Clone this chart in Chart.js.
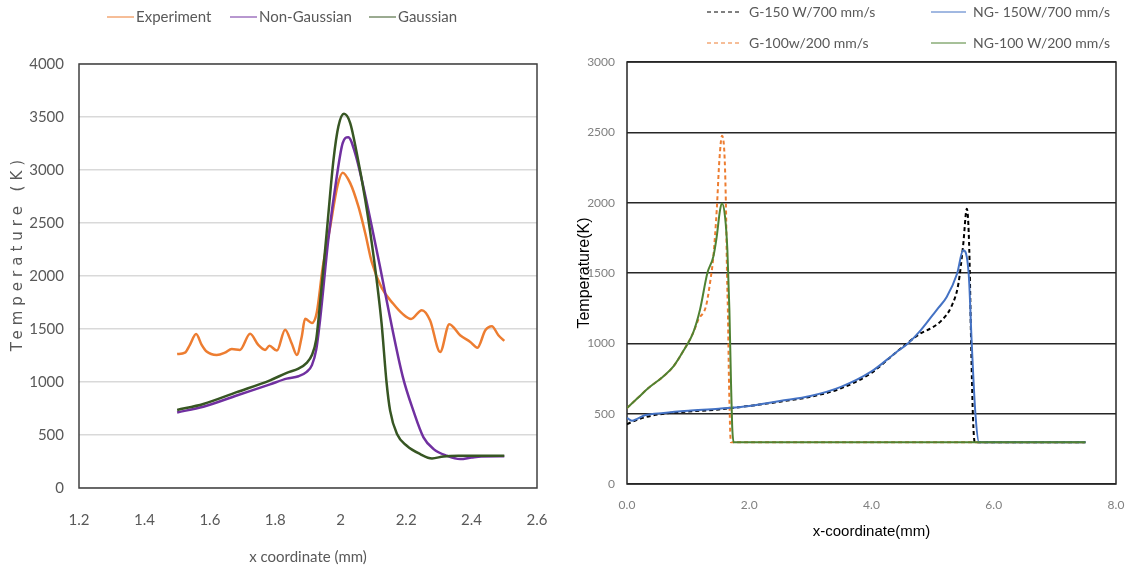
<!DOCTYPE html>
<html>
<head>
<meta charset="utf-8">
<script src="https://cdn.jsdelivr.net/npm/chart.js@4.4.1/dist/chart.umd.min.js"></script>
<style>
  html, body { margin: 0; padding: 0; background: #fff; }
  #wrap { position: relative; width: 1128px; height: 571px; overflow: hidden; }
  canvas { position: absolute; top: 0; }
  #peakChart { left: 0; }
  #speedChart { left: 560px; }
</style>
</head>
<body>
<div id="wrap">
  <canvas id="peakChart" width="560" height="571"></canvas>
  <canvas id="speedChart" width="568" height="571"></canvas>
</div>
<script>
// ---- temperature profile across the track (mm / K) ----
var expX = [1.5, 1.524, 1.539, 1.558, 1.575, 1.59, 1.621, 1.646, 1.667, 1.692, 1.723, 1.748, 1.769, 1.782, 1.805, 1.83, 1.85, 1.866, 1.881, 1.891, 1.912, 1.927, 1.945, 1.968, 1.99, 2.006, 2.029, 2.054, 2.075, 2.095, 2.125, 2.16, 2.19, 2.215, 2.248, 2.273, 2.304, 2.332, 2.365, 2.396, 2.418, 2.442, 2.462, 2.482, 2.5];
var expT = [1264, 1277, 1350, 1452, 1350, 1287, 1255, 1277, 1312, 1303, 1455, 1350, 1303, 1341, 1296, 1494, 1366, 1255, 1430, 1596, 1557, 1659, 2080, 2467, 2850, 2975, 2876, 2656, 2404, 2130, 1890, 1740, 1640, 1595, 1678, 1583, 1283, 1545, 1441, 1378, 1324, 1488, 1526, 1441, 1387];

var nonGaussX = [1.5, 1.58, 1.682, 1.784, 1.835, 1.871, 1.896, 1.912, 1.925, 1.937, 1.962, 1.988, 2.006, 2.023, 2.044, 2.069, 2.095, 2.12, 2.148, 2.19, 2.222, 2.253, 2.284, 2.325, 2.365, 2.4, 2.43, 2.5];
var nonGaussT = [713, 767, 873, 978, 1032, 1054, 1096, 1159, 1303, 1589, 2341, 2939, 3254, 3310, 3160, 2845, 2467, 2089, 1650, 1046, 730, 478, 367, 304, 273, 288, 298, 300];

var gaussX = [1.5, 1.58, 1.682, 1.784, 1.835, 1.871, 1.896, 1.912, 1.925, 1.932, 1.957, 1.978, 1.993, 2.01, 2.029, 2.049, 2.075, 2.095, 2.11, 2.125, 2.14, 2.151, 2.172, 2.202, 2.243, 2.279, 2.314, 2.36, 2.5];
var gaussT = [736, 793, 904, 1016, 1086, 1127, 1181, 1255, 1398, 1589, 2404, 3097, 3412, 3530, 3443, 3160, 2719, 2310, 1960, 1550, 1000, 730, 509, 399, 320, 279, 298, 304, 304];

var peakXTicks = [1.2, 1.4, 1.6, 1.8, 2.0, 2.2, 2.4, 2.6];
var peakYTicks = [0, 500, 1000, 1500, 2000, 2500, 3000, 3500, 4000];

// ---- power / scan speed cases along x (mm / K) ----
var g150X = [0, 0.1, 0.3, 0.6, 1.0, 1.5, 2.0, 2.5, 3.0, 3.5, 4.0, 4.4, 4.8, 4.96, 5.14, 5.31, 5.42, 5.5, 5.56, 5.6, 5.63, 5.66, 5.69, 7.5];
var g150T = [425, 445, 475, 500, 515, 530, 555, 585, 620, 680, 790, 935, 1070, 1104, 1160, 1265, 1420, 1700, 1957, 1661, 997, 475, 296, 296];

var ng150X = [0, 0.08, 0.3, 0.6, 1.0, 1.5, 2.0, 2.5, 3.0, 3.5, 4.0, 4.4, 4.6, 4.8, 5.0, 5.1, 5.23, 5.4, 5.5, 5.59, 5.64, 5.7, 5.76, 7.5];
var ng150T = [470, 450, 490, 505, 520, 535, 555, 590, 625, 690, 800, 935, 1000, 1090, 1200, 1255, 1330, 1495, 1661, 1495, 997, 499, 296, 296];

var g100X = [0, 0.175, 0.35, 0.584, 0.76, 0.934, 1.08, 1.17, 1.293, 1.358, 1.413, 1.468, 1.511, 1.555, 1.599, 1.62, 1.637, 1.65, 1.67, 1.7, 7.5];
var g100T = [540, 611, 682, 761, 836, 955, 1073, 1170, 1265, 1429, 1618, 1947, 2300, 2476, 2300, 1947, 1476, 1241, 700, 296, 296];

var ng100X = [0, 0.175, 0.35, 0.584, 0.76, 0.934, 1.08, 1.195, 1.315, 1.413, 1.468, 1.522, 1.555, 1.604, 1.642, 1.675, 1.7, 1.72, 1.745, 7.5];
var ng100T = [540, 611, 682, 761, 836, 955, 1073, 1241, 1500, 1618, 1759, 1947, 1994, 1900, 1665, 1241, 750, 420, 296, 296];

var speedXTicks = [0, 2, 4, 6, 8];
var speedYTicks = [0, 500, 1000, 1500, 2000, 2500, 3000];

function pts(xs, ys) {
    return xs.map(function (x, i) { return { x: x, y: ys[i] }; });
}

function fixedTicks(list) {
    return function (axis) {
        axis.ticks = list.map(function (v) { return { value: v }; });
    };
}

// box round the plot area
function frame(color, width) {
    return {
        id: 'frame',
        beforeDatasetsDraw: function (chart) {
            var a = chart.chartArea, ctx = chart.ctx;
            ctx.save();
            ctx.strokeStyle = color;
            ctx.lineWidth = width;
            ctx.strokeRect(a.left, a.top, a.right - a.left, a.bottom - a.top);
            ctx.restore();
        }
    };
}

// legend with line samples at set spots
function lineLegend(items, font, color, sample, gap) {
    return {
        id: 'lineLegend',
        afterDraw: function (chart) {
            var ctx = chart.ctx;
            ctx.save();
            ctx.font = font;
            ctx.textBaseline = 'middle';
            items.forEach(function (it) {
                var ds = chart.data.datasets[it.index];
                ctx.beginPath();
                ctx.setLineDash(ds.borderDash || []);
                ctx.strokeStyle = ds.borderColor;
                ctx.lineWidth = ds.borderWidth;
                ctx.moveTo(it.x, it.y);
                ctx.lineTo(it.x + sample, it.y);
                ctx.stroke();
                ctx.setLineDash([]);
                ctx.fillStyle = color;
                ctx.fillText(ds.label, it.x + sample + gap, it.y);
            });
            ctx.restore();
        }
    };
}

// rotated, letter-spaced y title
function spacedYTitle(text, font, color, x, y, spacing) {
    return {
        id: 'spacedYTitle',
        afterDraw: function (chart) {
            var ctx = chart.ctx;
            ctx.save();
            ctx.translate(x, y);
            ctx.rotate(-Math.PI / 2);
            ctx.font = font;
            ctx.fillStyle = color;
            ctx.textAlign = 'center';
            ctx.textBaseline = 'middle';
            if ('letterSpacing' in ctx) ctx.letterSpacing = spacing;
            ctx.fillText(text, 0, 0);
            ctx.restore();
        }
    };
}

var grey = '#595959';
var lato15 = { family: "Lato, 'Open Sans', sans-serif", size: 15 };
var plain = function (v) { return String(v); };

/* ── Experiment vs. heat source models ── */
new Chart(document.getElementById('peakChart'), {
    type: 'line',
    data: {
        datasets: [{
            label: 'Experiment',
            data: pts(expX, expT),
            borderColor: '#ED7D31',
            order: 2
        }, {
            label: 'Non-Gaussian',
            data: pts(nonGaussX, nonGaussT),
            borderColor: '#7030A0',
            order: 1
        }, {
            label: 'Gaussian',
            data: pts(gaussX, gaussT),
            borderColor: '#375623',
            order: 0
        }]
    },
    options: {
        responsive: false,
        animation: false,
        layout: { padding: { top: 64, right: 23, bottom: 0, left: 0 } },
        elements: {
            point: { radius: 0 },
            line: { borderWidth: 2.5, cubicInterpolationMode: 'monotone' }
        },
        plugins: { legend: { display: false }, tooltip: { enabled: false } },
        scales: {
            x: {
                type: 'linear',
                min: 1.2,
                max: 2.6,
                afterBuildTicks: fixedTicks(peakXTicks),
                afterFit: function (s) { s.height = 83; },
                // tick marks hidden; tickLength only pushes the labels down
                grid: { display: false, drawTicks: true, tickLength: 23 },
                border: { display: false },
                ticks: {
                    padding: 0,
                    maxRotation: 0,
                    color: grey,
                    font: lato15,
                    callback: function (v) { return String(Number(v.toFixed(1))); }
                },
                title: {
                    display: true,
                    text: 'x coordinate (mm)',
                    color: grey,
                    font: lato15,
                    padding: { top: 0, bottom: 5 }
                }
            },
            y: {
                min: 0,
                max: 4000,
                afterBuildTicks: fixedTicks(peakYTicks),
                afterFit: function (s) { s.width = 79; },
                grid: { color: '#d9d9d9', lineWidth: 1.5, drawTicks: false },
                border: { display: false },
                ticks: { padding: 15, color: grey, font: lato15, callback: plain }
            }
        }
    },
    plugins: [
        frame('#404040', 1.5),
        lineLegend([
            { index: 0, x: 107, y: 17 },
            { index: 1, x: 230, y: 17 },
            { index: 2, x: 369, y: 17 }
        ], "15px Lato, 'Open Sans', sans-serif", grey, 27, 2),
        spacedYTitle('Temperature (K)', "15px 'DejaVu Sans', sans-serif", grey, 18, 253, '5px')
    ]
});

/* ── power / scan speed comparison ── */
new Chart(document.getElementById('speedChart'), {
    type: 'line',
    data: {
        datasets: [{
            label: 'G-150 W/700 mm/s',
            data: pts(g150X, g150T),
            borderColor: '#000000',
            borderDash: [4, 3],
            order: 3
        }, {
            label: 'NG- 150W/700 mm/s',
            data: pts(ng150X, ng150T),
            borderColor: '#4472C4',
            order: 1
        }, {
            label: 'G-100w/200 mm/s',
            data: pts(g100X, g100T),
            borderColor: '#ED7D31',
            borderDash: [4, 3],
            order: 2
        }, {
            label: 'NG-100 W/200 mm/s',
            data: pts(ng100X, ng100T),
            borderColor: '#4F8232',
            order: 0
        }]
    },
    options: {
        responsive: false,
        animation: false,
        layout: { padding: { top: 62, right: 12, bottom: 0, left: 0 } },
        elements: {
            point: { radius: 0 },
            line: { borderWidth: 2, cubicInterpolationMode: 'monotone' }
        },
        plugins: { legend: { display: false }, tooltip: { enabled: false } },
        scales: {
            x: {
                type: 'linear',
                min: 0,
                max: 8,
                afterBuildTicks: fixedTicks(speedXTicks),
                afterFit: function (s) { s.height = 87; },
                grid: { display: false, drawTicks: true, tickLength: 14 },
                border: { display: false },
                ticks: {
                    padding: 0,
                    maxRotation: 0,
                    color: '#808080',
                    font: { family: "Lato, sans-serif", size: 12 },
                    callback: function (v) { return v.toFixed(1); }
                },
                title: {
                    display: true,
                    text: 'x-coordinate(mm)',
                    color: '#000',
                    font: { family: "'Liberation Sans', Arial, sans-serif", size: 15 },
                    padding: { top: 0, bottom: 30 }
                }
            },
            y: {
                min: 0,
                max: 3000,
                afterBuildTicks: fixedTicks(speedYTicks),
                afterFit: function (s) { s.width = 67; },
                grid: { color: '#262626', lineWidth: 1.5, drawTicks: false },
                border: { display: false },
                ticks: {
                    padding: 12,
                    color: '#808080',
                    font: { family: "Lato, sans-serif", size: 12 },
                    callback: plain
                },
                title: {
                    display: true,
                    text: 'Temperature(K)',
                    color: '#000',
                    font: { family: "'Liberation Sans', Arial, sans-serif", size: 16 },
                    padding: { top: 15, bottom: 0 }
                }
            }
        }
    },
    plugins: [
        frame('#262626', 1.5),
        lineLegend([
            { index: 0, x: 147, y: 12 },
            { index: 1, x: 371, y: 12 },
            { index: 2, x: 147, y: 43 },
            { index: 3, x: 371, y: 43 }
        ], "14px Lato, sans-serif", grey, 35, 7)
    ]
});
</script>
</body>
</html>
